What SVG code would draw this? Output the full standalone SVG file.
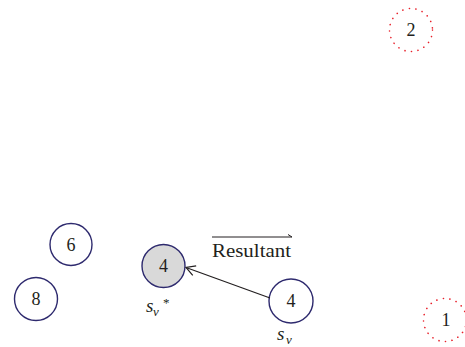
<svg xmlns="http://www.w3.org/2000/svg" width="465" height="347" viewBox="0 0 465 347">
<style>
.n{fill:#fff;stroke:#2e2a6e;stroke-width:1.4}
.g{fill:#d9d9d9;stroke:#2e2a6e;stroke-width:1.4}
.d{fill:none;stroke:#e8202a;stroke-width:1.6;stroke-dasharray:0.1 6.5;stroke-linecap:round}
text{font-family:"Liberation Serif","Times New Roman",serif;font-size:18px;fill:#231f20}
.c{text-anchor:middle}
.i{font-style:italic;font-size:19px}
.sub{font-style:italic;font-size:13px}
.sup{font-size:13px}
</style>
<defs>
<marker id="ah" markerWidth="12" markerHeight="12" refX="10" refY="6" orient="auto" markerUnits="userSpaceOnUse">
<path d="M1,1 L10,6 L1,11" fill="none" stroke="#231f20" stroke-width="1.2"/>
</marker>
</defs>
<g id="node2"><circle class="d" cx="411" cy="30" r="21.5"/><text class="c" x="411" y="36">2</text></g>
<g id="node1"><circle class="d" cx="445" cy="320" r="21.5"/><text class="c" x="446" y="326">1</text></g>
<g id="node6"><circle class="n" cx="71" cy="244.5" r="21"/><text class="c" x="71" y="250.5">6</text></g>
<g id="node8"><circle class="n" cx="36" cy="299" r="21.5"/><text class="c" x="36" y="305">8</text></g>
<g id="node4s"><circle class="g" cx="163.5" cy="266" r="21.5"/><text class="c" x="163.5" y="272">4</text>
<text class="i" x="146" y="312">s</text><text class="sub" x="153" y="316">ν</text><text class="sup" x="163" y="307">*</text></g>
<g id="node4"><circle class="n" cx="291" cy="301" r="22"/><text class="c" x="291" y="307">4</text>
<text class="i" x="277" y="340">s</text><text class="sub" x="286" y="344">ν</text></g>
<g id="connectors">
<line x1="270" y1="298" x2="186" y2="267.5" stroke="#231f20" stroke-width="1.2" marker-end="url(#ah)"/>
</g>
<g id="label"><text x="212" y="257" textLength="79" lengthAdjust="spacingAndGlyphs">Resultant</text>
<line x1="212" y1="237" x2="292" y2="237" stroke="#231f20" stroke-width="1"/>
<path d="M288,234.5 L292,237" fill="none" stroke="#231f20" stroke-width="1"/></g>
</svg>
